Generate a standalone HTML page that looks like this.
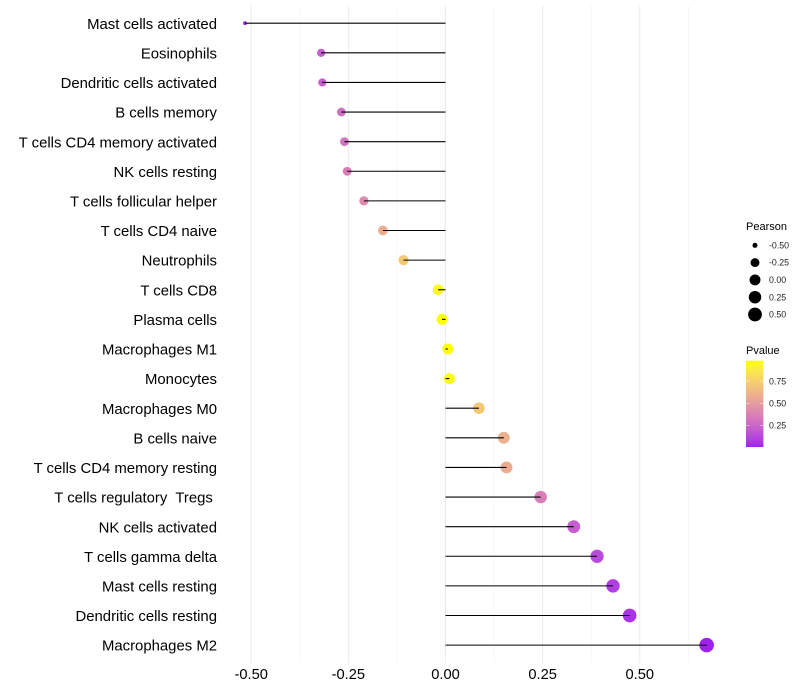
<!DOCTYPE html>
<html lang="en">
<head>
<meta charset="utf-8">
<title>Immune cell lollipop chart</title>
<style>
html,body{margin:0;padding:0;background:#fff;}
svg{display:block;font-family:"Liberation Sans",Arial,sans-serif;}
text{white-space:pre;}
</style>
</head>
<body>
<svg id="chart" width="800" height="700" viewBox="0 0 800 700" xmlns="http://www.w3.org/2000/svg">
  <defs>
    <linearGradient id="pvalue-gradient" x1="0" y1="1" x2="0" y2="0"></linearGradient>
  </defs>
  <rect x="0" y="0" width="800" height="700" fill="#ffffff"/>
  <g id="grid"></g>
  <g id="points"></g>
  <g id="stems"></g>
  <g id="y-axis"></g>
  <g id="x-axis"></g>
  <g id="size-legend"></g>
  <g id="color-legend"></g>
</svg>
<script>
const categories = ["Mast cells activated","Eosinophils","Dendritic cells activated","B cells memory","T cells CD4 memory activated","NK cells resting","T cells follicular helper","T cells CD4 naive","Neutrophils","T cells CD8","Plasma cells","Macrophages M1","Monocytes","Macrophages M0","B cells naive","T cells CD4 memory resting","T cells regulatory  Tregs ","NK cells activated","T cells gamma delta","Mast cells resting","Dendritic cells resting","Macrophages M2"];
const pearsonValues = [-0.516,-0.32,-0.317,-0.268,-0.26,-0.253,-0.21,-0.161,-0.108,-0.019,-0.009,0.006,0.01,0.086,0.15,0.157,0.245,0.33,0.39,0.431,0.474,0.672];
const pValues = [0.02,0.22,0.22,0.3,0.32,0.35,0.42,0.58,0.72,0.95,0.98,0.98,0.97,0.72,0.6,0.58,0.36,0.22,0.14,0.1,0.06,0.01];
const xTicks = [-0.5,-0.25,0,0.25,0.5];
const xMinorTicks = [-0.375,-0.125,0.125,0.375,0.625];
const sizeLegendValues = [-0.5,-0.25,0,0.25,0.5];
const colorLegendValues = [0.25,0.5,0.75];

const NS = "http://www.w3.org/2000/svg";
const xZero = 445.5, xScale = 388.6;
const rowStart = 23.2, rowStep = 29.615;
const panelTop = 5.5, panelBottom = 663.5;
const pMin = 0.01, pMax = 0.98;
const barTop = 360.7, barBottom = 447;

function xAxis(v){ return xZero + v * xScale; }
function yAxis(i){ return rowStart + i * rowStep; }
function pAxis(p){ return barBottom - (p - pMin) / (pMax - pMin) * (barBottom - barTop); }
function diameter(v){
  const lo = Math.min.apply(null, pearsonValues), hi = Math.max.apply(null, pearsonValues);
  const t = Math.max(0, (v - lo) / (hi - lo));
  return 3.8 + 10.8 * Math.sqrt(t);
}
function make(tag, attrs, parent, txt){
  const el = document.createElementNS(NS, tag);
  for (const k in attrs) el.setAttribute(k, attrs[k]);
  if (txt !== undefined) el.textContent = txt;
  parent.appendChild(el);
  return el;
}
/* Lab interpolation between purple and yellow */
function toLab(r,g,b){
  const f = c => { c/=255; return c>0.04045 ? Math.pow((c+0.055)/1.055,2.4) : c/12.92; };
  const R=f(r),G=f(g),B=f(b);
  const X=(0.4124*R+0.3576*G+0.1805*B)/0.95047, Y=0.2126*R+0.7152*G+0.0722*B, Z=(0.0193*R+0.1192*G+0.9505*B)/1.08883;
  const h = t => t>0.008856 ? Math.cbrt(t) : 7.787*t+16/116;
  return [116*h(Y)-16, 500*(h(X)-h(Y)), 200*(h(Y)-h(Z))];
}
function fromLab(L,a,b){
  const fy=(L+16)/116, fx=fy+a/500, fz=fy-b/200;
  const h = t => t*t*t>0.008856 ? t*t*t : (t-16/116)/7.787;
  const X=h(fx)*0.95047, Y=h(fy), Z=h(fz)*1.08883;
  const g = c => { c=Math.max(0,Math.min(1,c)); return Math.round(255*(c>0.0031308 ? 1.055*Math.pow(c,1/2.4)-0.055 : 12.92*c)); };
  return "rgb("+g(3.2406*X-1.5372*Y-0.4986*Z)+","+g(-0.9689*X+1.8758*Y+0.0415*Z)+","+g(0.0557*X-0.204*Y+1.057*Z)+")";
}
const labLow = toLab(160,32,240), labHigh = toLab(255,255,0);
function colorAt(p){
  const t = Math.max(0, Math.min(1, (p - pMin) / (pMax - pMin)));
  return fromLab(labLow[0]+(labHigh[0]-labLow[0])*t, labLow[1]+(labHigh[1]-labLow[1])*t, labLow[2]+(labHigh[2]-labLow[2])*t);
}

const grid = document.getElementById("grid");
xMinorTicks.forEach(function(v){
  const l = make("line",{x1:xAxis(v),x2:xAxis(v),y1:panelTop,y2:panelBottom,stroke:"#f0f0f0","stroke-width":0.55},grid);
  
  
});
xTicks.forEach(function(v){
  const l = make("line",{x1:xAxis(v),x2:xAxis(v),y1:panelTop,y2:panelBottom,stroke:"#ececec","stroke-width":1.07},grid);
  
  
});

const pointsG = document.getElementById("points");
const stemsG = document.getElementById("stems");
const yAxisG = document.getElementById("y-axis");
categories.forEach(function(name,i){
  const y = yAxis(i), v = pearsonValues[i];
  const c = make("circle",{cx:xAxis(v),cy:y,r:diameter(v)/2,fill:colorAt(pValues[i])},pointsG);
  
  
  const s = make("line",{x1:xAxis(0),x2:xAxis(v),y1:y,y2:y,stroke:"#000000","stroke-width":1.07},stemsG);
  
  
  const t = make("text",{x:217,y:y+5.6,"text-anchor":"end","font-size":14.9,fill:"#000000"},yAxisG,name);
  
  
});

const xAxisG = document.getElementById("x-axis");
xTicks.forEach(function(v){
  const t = make("text",{x:xAxis(v),y:679,"text-anchor":"middle","font-size":14.67,fill:"#000000"},xAxisG,v.toFixed(2));
  
  
});

const sizeG = document.getElementById("size-legend");
const sizeTitle = make("text",{x:746,y:230,"font-size":11,fill:"#000000"},sizeG,"Pearson");


sizeLegendValues.forEach(function(v,i){
  const y = 245.3 + i * 17.3;
  const c = make("circle",{cx:755,cy:y,r:diameter(v)/2,fill:"#000000"},sizeG);
  
  
  const t = make("text",{x:769,y:y+3.1,"font-size":8.8,fill:"#222222"},sizeG,v.toFixed(2));
  
  
});

const colorG = document.getElementById("color-legend");
const colorTitle = make("text",{x:746,y:354,"font-size":11,fill:"#000000"},colorG,"Pvalue");


const grad = document.getElementById("pvalue-gradient");
for (let k = 0; k <= 20; k++){
  make("stop",{offset:(k/20),"stop-color":colorAt(pMin+(pMax-pMin)*k/20)},grad);
}
const bar = make("rect",{x:746,y:barTop,width:17.4,height:barBottom-barTop,fill:"url(#pvalue-gradient)"},colorG);


colorLegendValues.forEach(function(p){
  const y = pAxis(p);
  const a = make("line",{x1:746,x2:749.5,y1:y,y2:y,stroke:"#ffffff","stroke-width":0.5,"stroke-opacity":0.8},colorG);
  
  
  const b = make("line",{x1:759.9,x2:763.4,y1:y,y2:y,stroke:"#ffffff","stroke-width":0.5,"stroke-opacity":0.8},colorG);
  
  
  const t = make("text",{x:769,y:y+3.1,"font-size":8.8,fill:"#222222"},colorG,p.toFixed(2));
  
  
});
</script>
</body>
</html>
